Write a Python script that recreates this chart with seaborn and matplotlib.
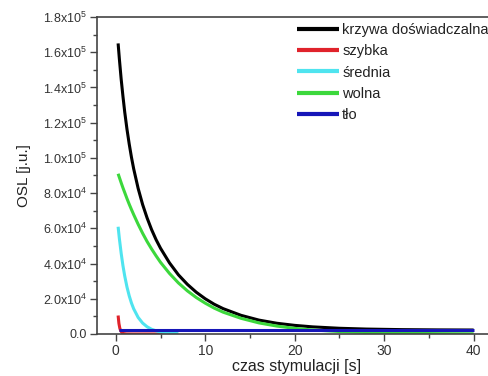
import numpy as np
import pandas as pd
import seaborn as sns
import matplotlib
matplotlib.use("Agg")
import matplotlib.pyplot as plt
from matplotlib.ticker import MultipleLocator, FixedLocator, FixedFormatter

# ---- data ----
t_main = [0.26, 0.4, 0.6, 0.8, 1.0, 1.25, 1.5, 1.75, 2.0, 2.5, 3.0, 3.5, 4.0, 4.5, 5.0,
          6, 7, 8, 9, 10, 11, 12, 14, 16, 18, 20, 22, 25, 28, 32, 36, 40]
krzywa = [165000, 156200, 144800, 135000, 126000, 116300, 107900, 100400, 93800, 82650,
          73500, 65900, 59300, 53600, 48700, 40400, 33600, 28200, 23700, 20000, 16900,
          14400, 10600, 7900, 6100, 4900, 4050, 3250, 2800, 2480, 2330, 2260]
wolna = [91000, 88900, 85900, 83000, 80300, 76900, 73700, 70700, 67800, 62300, 57200,
         52500, 48300, 44400, 40700, 34400, 29000, 24500, 20700, 17500, 14700, 12400,
         8900, 6300, 4500, 3200, 2300, 1400, 830, 420, 210, 110]

t_sred = [0.26, 0.4, 0.6, 0.8, 1.0, 1.25, 1.5, 1.75, 2.0, 2.5, 3.0, 3.5, 4.0, 4.5, 5.0, 6, 7]
srednia = [60900, 54200, 45900, 38800, 32900, 26700, 21700, 17600, 14300, 9400, 6200,
           4100, 2700, 1800, 1200, 500, 200]

t_szyb = [0.26, 0.35, 0.45, 0.55, 0.7, 0.9, 1.2, 2, 4, 6.2]
szybka = [10500, 6000, 3300, 1800, 700, 200, 40, 0, 0, 0]

t_tlo = [0.37, 10, 20, 30, 40]
tlo = [2200, 2200, 2200, 2200, 2200]

labels = ["krzywa doświadczalna", "szybka", "średnia", "wolna", "tło"]
colors = ["#000000", "#e0232b", "#4fe4ef", "#3cd83c", "#1616b8"]

y_ticks = [0, 20000, 40000, 60000, 80000, 100000, 120000, 140000, 160000, 180000]
y_ticklabels = ["0.0", r"2.0x10$^{4}$", r"4.0x10$^{4}$", r"6.0x10$^{4}$", r"8.0x10$^{4}$",
                r"1.0x10$^{5}$", r"1.2x10$^{5}$", r"1.4x10$^{5}$", r"1.6x10$^{5}$", r"1.8x10$^{5}$"]
x_ticks = [0, 10, 20, 30, 40]

sns.set_theme(style="white")
plt.rcParams["font.family"] = ["Liberation Sans", "DejaVu Sans"]
plt.rcParams["mathtext.fontset"] = "custom"
plt.rcParams["mathtext.rm"] = "Liberation Sans"
plt.rcParams["mathtext.it"] = "Liberation Sans"
plt.rcParams["mathtext.default"] = "regular"

fig = plt.figure(figsize=(4.88, 3.76), dpi=100)
ax = fig.add_axes([97 / 488, 42 / 376, 399 / 488, 317 / 376])

series = [
    (t_main, krzywa),
    (t_szyb, szybka),
    (t_sred, srednia),
    (t_main, wolna),
    (t_tlo, tlo),
]
for (tx, vy), lab, col in zip(series, labels, colors):
    df = pd.DataFrame({"t": tx, "v": vy})
    sns.lineplot(data=df, x="t", y="v", ax=ax, color=col, lw=2.2, label=lab,
                 solid_capstyle="butt")

ax.set_xlim(-2.1, 42.5)
ax.set_ylim(0, 180000)
ax.yaxis.set_major_locator(FixedLocator(y_ticks))
ax.yaxis.set_major_formatter(FixedFormatter(y_ticklabels))
ax.yaxis.set_minor_locator(MultipleLocator(10000))
ax.xaxis.set_major_locator(FixedLocator(x_ticks))
ax.xaxis.set_minor_locator(MultipleLocator(5))

ax.tick_params(axis="both", which="major", direction="out", length=5, width=1.0,
               color="#444444", labelsize=9, labelcolor="#333333", pad=2)
ax.tick_params(axis="both", which="minor", direction="out", length=3, width=1.0,
               color="#444444")
ax.tick_params(axis="x", which="major", labelsize=10)
ax.tick_params(axis="both", which="both", bottom=True, left=True, top=False, right=False)

for sp in ax.spines.values():
    sp.set_color("#444444")
    sp.set_linewidth(1.2)

ax.set_xlabel("czas stymulacji [s]", fontsize=11.5, color="#222222", labelpad=1)
ax.set_ylabel("OSL [j.u.]", fontsize=11, color="#222222", labelpad=9)

leg = ax.legend(loc="upper left", bbox_to_anchor=(297 / 488, 1 - 23 / 376),
                bbox_transform=fig.transFigure, frameon=False, fontsize=10.5,
                handlelength=2.9, handletextpad=0.2, labelspacing=0.5,
                borderpad=0, borderaxespad=0)
for line in leg.get_lines():
    line.set_linewidth(3)
for txt in leg.get_texts():
    txt.set_color("#222222")

fig.savefig("out.png", dpi=100)
